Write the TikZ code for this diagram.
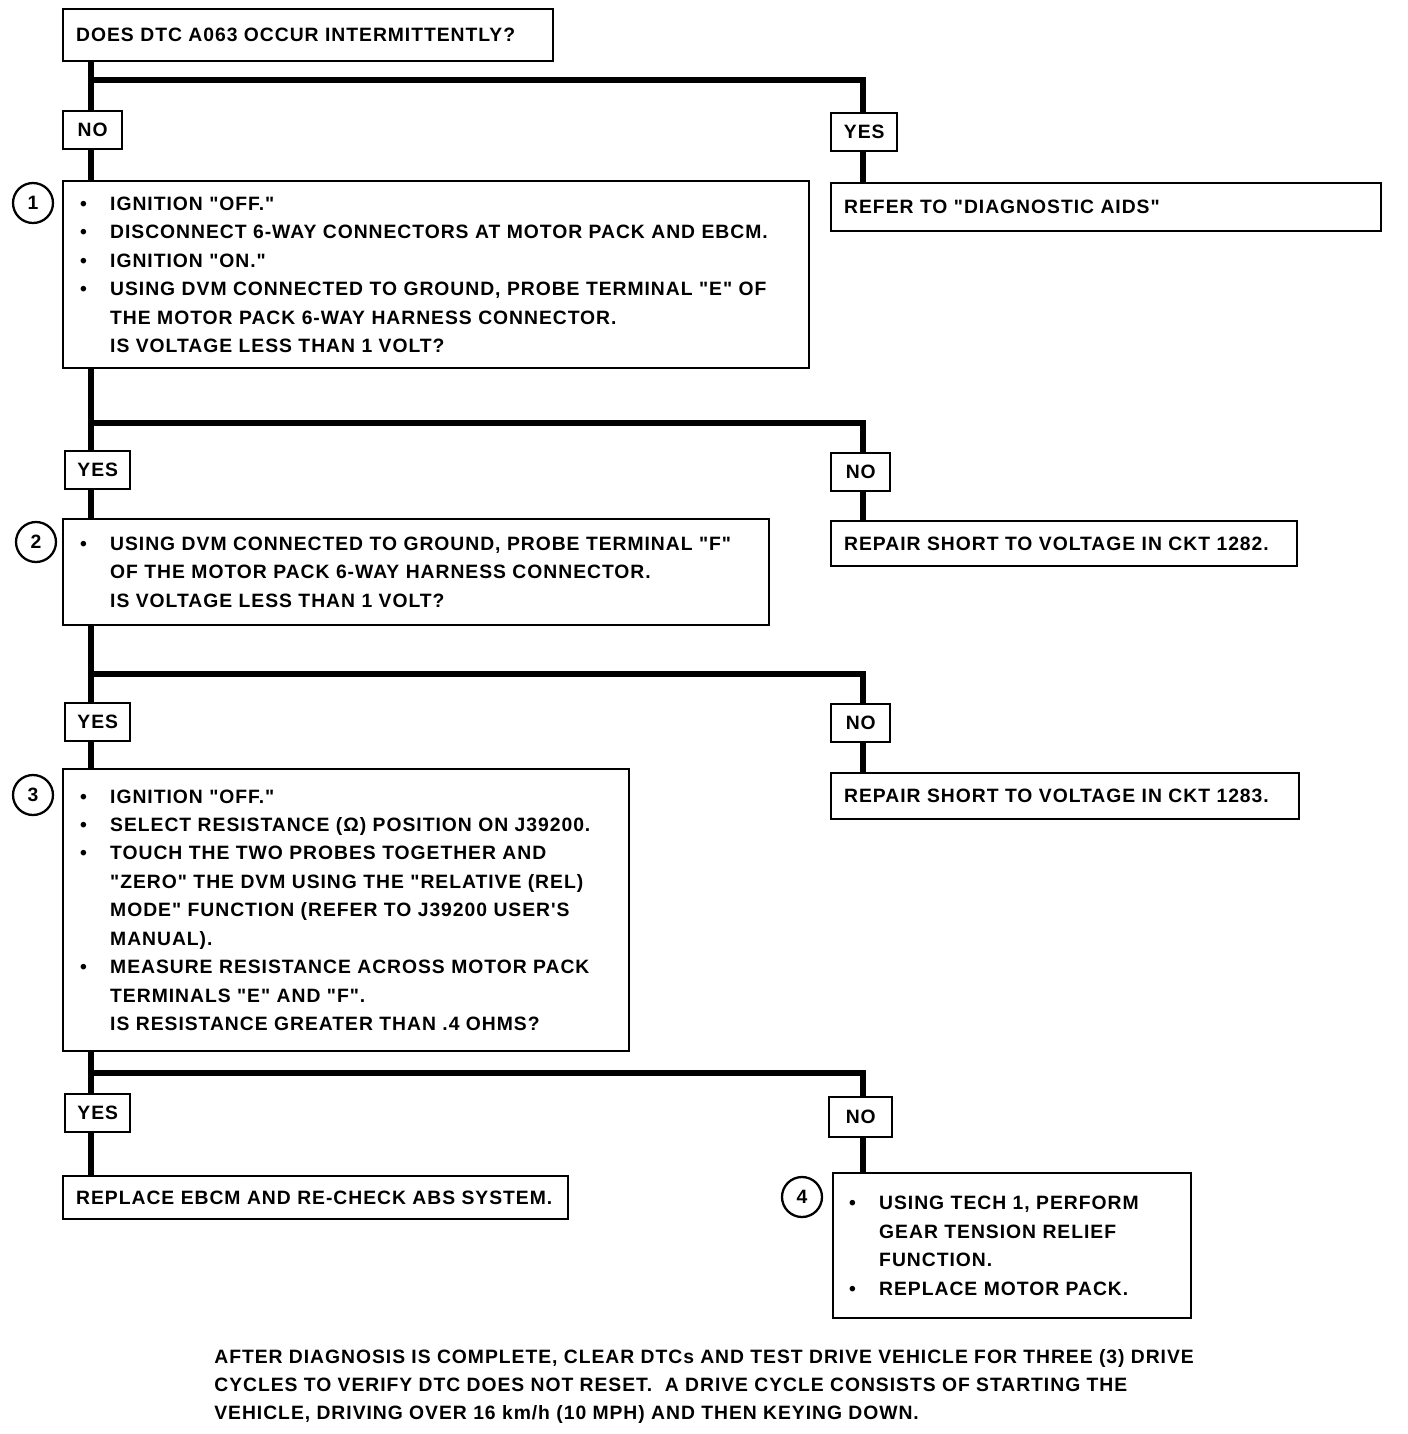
\documentclass[tikz,border=0pt]{standalone}
\usepackage{fontspec}
\setmainfont{Liberation Sans}[Ligatures=TeXOff, LetterSpace=5]
\pgfdeclarelayer{edgelayer}
\pgfdeclarelayer{nodelayer}
\pgfsetlayers{edgelayer,nodelayer,main}
\tikzstyle{edge}=[draw=black, line width=3.4pt]
\tikzstyle{box}=[draw=black, line width=1.4pt, fill=white, anchor=north west, align=left, inner xsep=0.26cm, inner ysep=0pt, font=\bfseries\fontsize{11}{16.2}\selectfont]
\tikzstyle{listbox}=[box, inner xsep=0.34cm]
\tikzstyle{tag}=[box, align=center, inner xsep=0pt, minimum height=0.76cm]
\tikzstyle{num}=[circle, draw=black, line width=1.3pt, fill=white, minimum size=0.8cm, inner sep=0pt, font=\bfseries\fontsize{11}{13}\selectfont]
\tikzstyle{note}=[anchor=north west, align=left, inner sep=0pt, font=\bfseries\fontsize{11}{16}\selectfont]
\newcommand{\bl}{\makebox[0.6cm][l]{\textbullet}}
\newcommand{\ind}{\hspace*{0.6cm}}

\begin{document}
\begin{tikzpicture}[x=0.02cm, y=-0.02cm]
				\useasboundingbox (0,0) rectangle (1408,1434);
				\begin{pgfonlayer}{nodelayer}
					\node [style=box, text width=9.28cm, minimum height=1.04cm] (q0) at (62, 8) {DOES DTC A063 OCCUR INTERMITTENTLY?};
					\node [style=tag, minimum width=1.18cm] (n0) at (62, 110) {NO};
					\node [style=tag, minimum width=1.32cm] (y0) at (830, 112) {YES};
					\node [style=listbox, text width=14.24cm, minimum height=3.74cm] (b1) at (62, 180) {\bl IGNITION "OFF."\\ \bl DISCONNECT 6-WAY CONNECTORS AT MOTOR PACK AND EBCM.\\ \bl IGNITION "ON."\\ \bl USING DVM CONNECTED TO GROUND, PROBE TERMINAL "E" OF\\ \ind THE MOTOR PACK 6-WAY HARNESS CONNECTOR.\\ \ind IS VOLTAGE LESS THAN 1 VOLT?};
					\node [style=box, text width=10.48cm, minimum height=0.96cm] (r1) at (830, 182) {REFER TO "DIAGNOSTIC AIDS"};
					\node [style=tag, minimum width=1.3cm] (y1) at (64, 450) {YES};
					\node [style=tag, minimum width=1.18cm] (n1) at (830, 452) {NO};
					\node [style=listbox, text width=13.44cm, minimum height=2.12cm] (b2) at (62, 518) {\bl USING DVM CONNECTED TO GROUND, PROBE TERMINAL "F"\\ \ind OF THE MOTOR PACK 6-WAY HARNESS CONNECTOR.\\ \ind IS VOLTAGE LESS THAN 1 VOLT?};
					\node [style=box, text width=8.80cm, minimum height=0.9cm] (r2) at (830, 520) {REPAIR SHORT TO VOLTAGE IN CKT 1282.};
					\node [style=tag, minimum width=1.3cm] (y2) at (64, 702) {YES};
					\node [style=tag, minimum width=1.18cm] (n2) at (830, 703) {NO};
					\node [style=listbox, text width=10.64cm, minimum height=5.64cm] (b3) at (62, 768) {\bl IGNITION "OFF."\\ \bl SELECT RESISTANCE (Ω) POSITION ON J39200.\\ \bl TOUCH THE TWO PROBES TOGETHER AND\\ \ind "ZERO" THE DVM USING THE "RELATIVE (REL)\\ \ind MODE" FUNCTION (REFER TO J39200 USER'S\\ \ind MANUAL).\\ \bl MEASURE RESISTANCE ACROSS MOTOR PACK\\ \ind TERMINALS "E" AND "F".\\ \ind IS RESISTANCE GREATER THAN .4 OHMS?};
					\node [style=box, text width=8.84cm, minimum height=0.92cm] (r3) at (830, 772) {REPAIR SHORT TO VOLTAGE IN CKT 1283.};
					\node [style=tag, minimum width=1.3cm] (y3) at (64, 1093) {YES};
					\node [style=tag, minimum width=1.26cm, minimum height=0.8cm] (n3) at (828, 1096) {NO};
					\node [style=box, text width=9.58cm, minimum height=0.86cm] (r4) at (62, 1175) {REPLACE EBCM AND RE-CHECK ABS SYSTEM.};
					\node [style=listbox, inner xsep=0.32cm, text width=6.52cm, minimum height=2.9cm] (b4) at (832, 1172) {\bl USING TECH 1, PERFORM\\ \ind GEAR TENSION RELIEF\\ \ind FUNCTION.\\ \bl REPLACE MOTOR PACK.};
					\node [style=num] (c1) at (33, 203) {1};
					\node [style=num] (c2) at (36, 542) {2};
					\node [style=num] (c3) at (33, 795) {3};
					\node [style=num] (c4) at (802, 1197) {4};
					\node [style=note] (f0) at (214, 1349) {AFTER DIAGNOSIS IS COMPLETE, CLEAR DTCs AND TEST DRIVE VEHICLE FOR THREE (3) DRIVE\\ CYCLES TO VERIFY DTC DOES NOT RESET.\ \ A DRIVE CYCLE CONSISTS OF STARTING THE\\ VEHICLE, DRIVING OVER 16 km/h (10 MPH) AND THEN KEYING DOWN.};
				\end{pgfonlayer}
				\begin{pgfonlayer}{edgelayer}
					\coordinate (j0) at (91, 80);
					\coordinate (k0) at (863, 80);
					\coordinate (j1) at (91, 423);
					\coordinate (k1) at (863, 423);
					\coordinate (j2) at (91, 674);
					\coordinate (k2) at (863, 674);
					\coordinate (j3) at (91, 1073);
					\coordinate (k3) at (863, 1073);
					\draw [style=edge] (q0.south -| j0) to (n0.north -| j0);
					\draw [style=edge] (n0.south -| j0) to (b1.north -| j0);
					\draw [style=edge] (j0) -- (k0) -- (y0.north -| k0);
					\draw [style=edge] (y0.south -| k0) to (r1.north -| k0);
					\draw [style=edge] (b1.south -| j1) to (y1.north -| j1);
					\draw [style=edge] (y1.south -| j1) to (b2.north -| j1);
					\draw [style=edge] (j1) -- (k1) -- (n1.north -| k1);
					\draw [style=edge] (n1.south -| k1) to (r2.north -| k1);
					\draw [style=edge] (b2.south -| j2) to (y2.north -| j2);
					\draw [style=edge] (y2.south -| j2) to (b3.north -| j2);
					\draw [style=edge] (j2) -- (k2) -- (n2.north -| k2);
					\draw [style=edge] (n2.south -| k2) to (r3.north -| k2);
					\draw [style=edge] (b3.south -| j3) to (y3.north -| j3);
					\draw [style=edge] (y3.south -| j3) to (r4.north -| j3);
					\draw [style=edge] (j3) -- (k3) -- (n3.north -| k3);
					\draw [style=edge] (n3.south -| k3) to (b4.north -| k3);
				\end{pgfonlayer}
			\end{tikzpicture}
\end{document}
